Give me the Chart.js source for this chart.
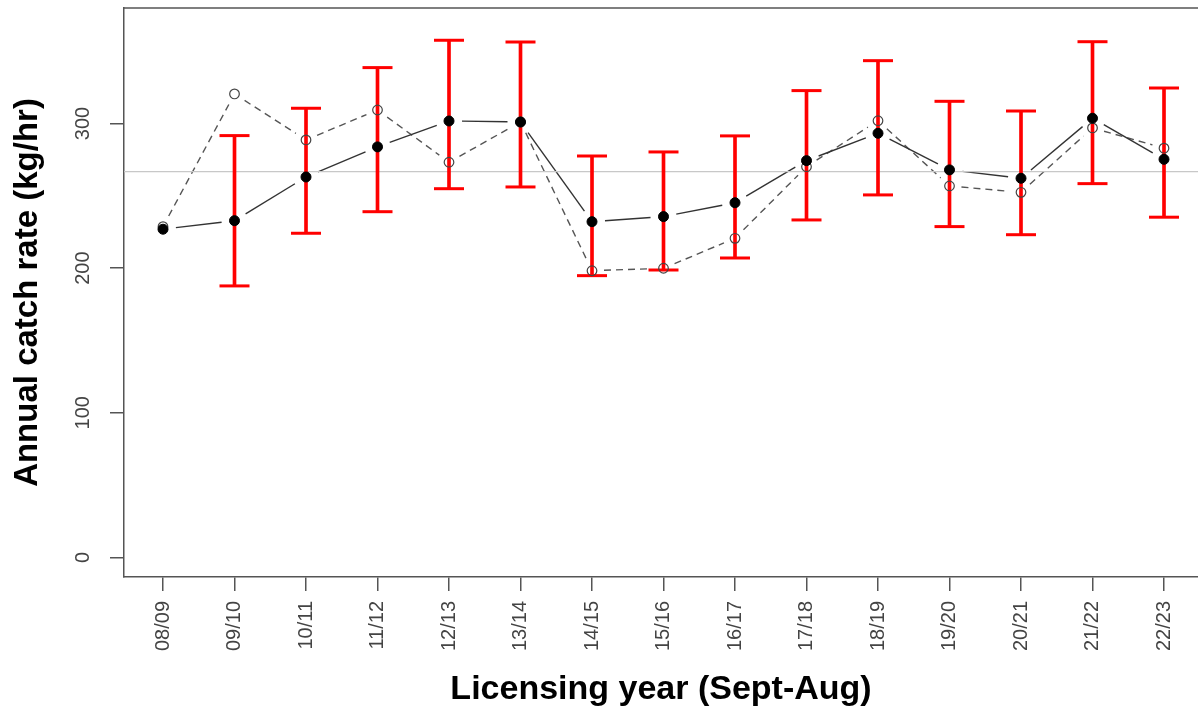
<!DOCTYPE html>
<html>
<head>
<meta charset="utf-8">
<title>Annual catch rate by licensing year</title>
<script src="https://cdn.jsdelivr.net/npm/chart.js@4/dist/chart.umd.min.js"></script>
<style>
  html, body { margin: 0; padding: 0; background: #ffffff; overflow: hidden; }
  canvas { display: block; }
</style>
</head>
<body>
<canvas id="chart" width="1198" height="713"></canvas>
<script>
// Licensing years (September to August)
const years = ['08/09', '09/10', '10/11', '11/12', '12/13', '13/14', '14/15', '15/16',
               '16/17', '17/18', '18/19', '19/20', '20/21', '21/22', '22/23'];

// Modelled annual catch rate (kg/hr), solid line with filled points
const modelRate = [226.9, 232.8, 263.0, 283.8, 301.7, 301.0, 232.1, 235.6,
                   245.2, 274.3, 293.2, 267.9, 262.1, 303.6, 275.2];

// Nominal annual catch rate (kg/hr), dashed line with open points
const nominalRate = [228.7, 320.4, 288.6, 309.3, 273.2, 301.0, 198.2, 199.9,
                     220.6, 270.1, 301.9, 256.8, 252.4, 296.9, 282.9];

// Confidence limits of the modelled rate (none for the first year)
const upperCI = [null, 291.6, 310.5, 338.6, 357.5, 356.3, 277.5, 280.3,
                 291.4, 322.7, 343.4, 315.3, 308.6, 356.5, 324.5];
const lowerCI = [null, 187.7, 224.1, 239.0, 254.9, 256.1, 194.8, 198.7,
                 207.0, 233.3, 250.6, 228.7, 223.1, 258.4, 235.2];

// Long-term mean of the series
const meanRate = 266.7;

// Axis ranges and tick values
const xRange = [0.4545, 15.4755];
const yRange = [-13.5, 379.8];
const yTicks = [0, 100, 200, 300];

const FONT = "'Liberation Sans', Arial, Helvetica, sans-serif";

const xy = (vals) => vals
  .map((v, i) => (v === null ? null : { x: i + 1, y: v }))
  .filter(p => p !== null);

const ciBars = years
  .map((_, i) => (upperCI[i] === null ? null : { x: i + 1, y: [lowerCI[i], upperCI[i]] }))
  .filter(p => p !== null);

// Lines drawn R "type = b" style: segments stop short of each point
const gappedLines = {
  id: 'gappedLines',
  beforeDatasetsDraw(chart) {
    const ctx = chart.ctx;
    const area = chart.chartArea;
    chart.data.datasets.forEach((ds, di) => {
      if (!ds.gapLine) return;
      const meta = chart.getDatasetMeta(di);
      const pts = meta.data;
      const g = ds.gapLine;
      ctx.save();
      ctx.beginPath();
      ctx.rect(area.left, area.top, area.right - area.left, area.bottom - area.top);
      ctx.clip();
      ctx.strokeStyle = g.color;
      ctx.lineWidth = g.width;
      ctx.setLineDash(g.dash || []);
      for (let i = 0; i < pts.length - 1; i++) {
        const a = pts[i], b = pts[i + 1];
        const dx = b.x - a.x, dy = b.y - a.y;
        const len = Math.hypot(dx, dy);
        if (len <= 2 * g.gap) continue;
        const ux = dx / len, uy = dy / len;
        ctx.beginPath();
        ctx.moveTo(a.x + ux * g.gap, a.y + uy * g.gap);
        ctx.lineTo(b.x - ux * g.gap, b.y - uy * g.gap);
        ctx.stroke();
      }
      ctx.restore();
    });
  }
};

// Top edge of the plot frame
const frameTop = {
  id: 'frameTop',
  afterDraw(chart) {
    const { ctx, chartArea } = chart;
    ctx.save();
    ctx.strokeStyle = '#555555';
    ctx.lineWidth = 1.5;
    ctx.beginPath();
    ctx.moveTo(chartArea.left, chartArea.top);
    ctx.lineTo(chartArea.right, chartArea.top);
    ctx.stroke();
    ctx.restore();
  }
};

// Keep the plot area fixed: no extra room for overhanging tick labels
const noLabelPadding = (scale) => {
  scale.paddingTop = 0;
  scale.paddingBottom = 0;
  scale.paddingLeft = 0;
  scale.paddingRight = 0;
};

new Chart(document.getElementById('chart'), {
  type: 'line',
  data: {
    datasets: [
      {
        label: 'Mean',
        data: [{ x: xRange[0], y: meanRate }, { x: xRange[1], y: meanRate }],
        borderColor: '#c8c8c8',
        borderWidth: 1.2,
        pointRadius: 0,
        order: 10
      },
      {
        type: 'bar',
        label: 'CI',
        data: ciBars,
        backgroundColor: '#ff0000',
        borderWidth: 0,
        barThickness: 3,
        grouped: false,
        order: 8
      },
      {
        type: 'scatter',
        label: 'Upper',
        data: xy(upperCI),
        pointStyle: 'line',
        pointRadius: 15,
        borderColor: '#ff0000',
        borderWidth: 3,
        order: 7
      },
      {
        type: 'scatter',
        label: 'Lower',
        data: xy(lowerCI),
        pointStyle: 'line',
        pointRadius: 15,
        borderColor: '#ff0000',
        borderWidth: 3,
        order: 7
      },
      {
        label: 'Nominal',
        data: xy(nominalRate),
        showLine: false,
        pointRadius: 4.8,
        pointBackgroundColor: 'rgba(0,0,0,0)',
        pointBorderColor: '#444444',
        pointBorderWidth: 1.2,
        gapLine: { color: '#555555', width: 1.4, dash: [7, 5], gap: 12 },
        order: 5
      },
      {
        label: 'Modelled',
        data: xy(modelRate),
        showLine: false,
        pointRadius: 5,
        pointBackgroundColor: '#000000',
        pointBorderColor: '#000000',
        pointBorderWidth: 1,
        gapLine: { color: '#333333', width: 1.4, dash: [], gap: 13 },
        order: 1
      }
    ]
  },
  options: {
    responsive: false,
    animation: false,
    events: [],
    layout: { autoPadding: false, padding: { top: 8, left: 0, right: 0, bottom: 0 } },
    plugins: {
      legend: { display: false },
      tooltip: { enabled: false }
    },
    scales: {
      x: {
        type: 'linear',
        min: xRange[0],
        max: xRange[1],
        offset: false,
        afterBuildTicks: (scale) => { scale.ticks = years.map((_, i) => ({ value: i + 1 })); },
        afterFit: (scale) => { scale.height = 136; noLabelPadding(scale); },
        grid: { offset: false, drawOnChartArea: false, drawTicks: true, tickLength: 14, color: '#555555', lineWidth: 1.5 },
        border: { display: true, color: '#555555', width: 1.5 },
        ticks: {
          autoSkip: false,
          minRotation: 90,
          maxRotation: 90,
          padding: 10,
          color: '#444444',
          font: { family: FONT, size: 20 },
          callback: (v) => years[v - 1]
        },
        title: {
          display: true,
          text: 'Licensing year (Sept-Aug)',
          color: '#000000',
          font: { family: FONT, size: 34, weight: 'bold' },
          padding: { top: 0, bottom: 3 }
        }
      },
      y: {
        type: 'linear',
        min: yRange[0],
        max: yRange[1],
        offset: false,
        afterBuildTicks: (scale) => { scale.ticks = yTicks.map(v => ({ value: v })); },
        afterFit: (scale) => { scale.width = 124; noLabelPadding(scale); },
        grid: { drawOnChartArea: false, drawTicks: true, tickLength: 14, color: '#555555', lineWidth: 1.5 },
        border: { display: true, color: '#555555', width: 1.5 },
        ticks: {
          minRotation: 90,
          maxRotation: 90,
          crossAlign: 'center',
          padding: 10,
          color: '#444444',
          font: { family: FONT, size: 20 }
        },
        title: {
          display: true,
          text: 'Annual catch rate (kg/hr)',
          color: '#000000',
          font: { family: FONT, size: 33, weight: 'bold' },
          padding: { top: 8, bottom: 0 }
        }
      }
    }
  },
  plugins: [gappedLines, frameTop]
});
</script>
</body>
</html>
